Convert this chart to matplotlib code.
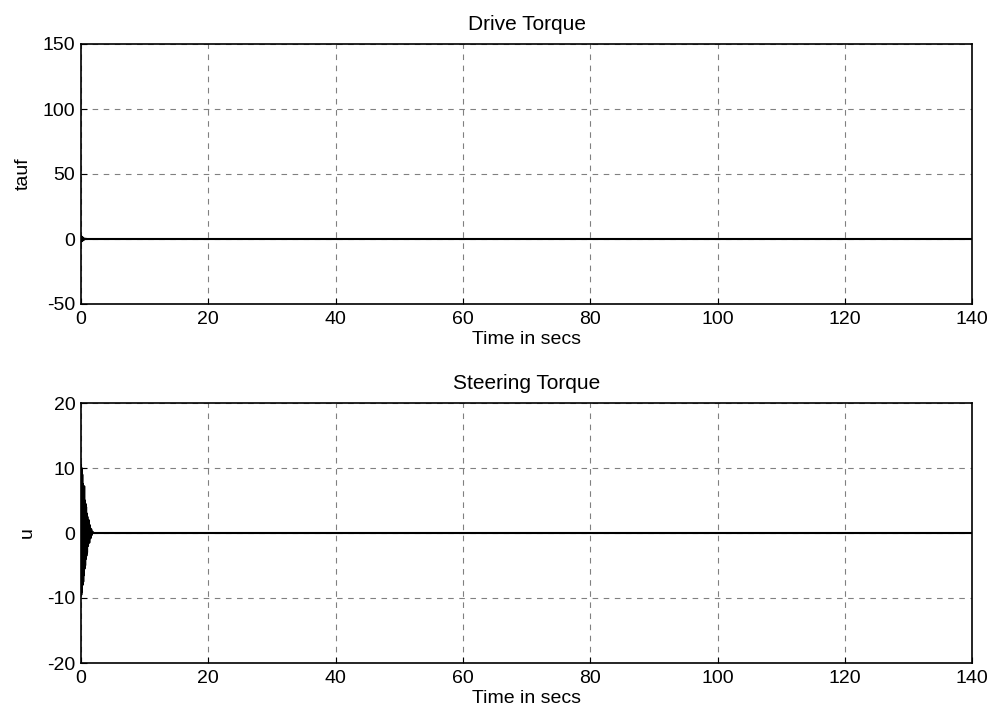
import matplotlib
matplotlib.use("Agg")
import matplotlib.pyplot as plt

plt.rcParams["font.family"] = ["Liberation Sans", "DejaVu Sans"]
plt.rcParams["font.size"] = 14
plt.rcParams["axes.unicode_minus"] = False

# drive torque: small transient right at the start, then flat zero
tauf_t = [0, 0.05, 0.1, 0.15, 0.2, 0.25, 0.3, 0.35, 0.4, 0.5, 0.6, 0.8, 1.0, 140]
tauf_v = [2.0, -2.0, 1.8, -1.6, 1.4, -1.2, 1.0, -0.8, 0.6, -0.4, 0.2, 0.1, 0.0, 0.0]

# steering torque: decaying oscillation in the first ~2 s
u_t = [0, 0.05, 0.1, 0.15, 0.2, 0.25, 0.3, 0.35, 0.4, 0.45, 0.5, 0.55, 0.6, 0.65,
       0.7, 0.75, 0.8, 0.85, 0.9, 0.95, 1.0, 1.1, 1.2, 1.3, 1.4, 1.5, 1.6, 1.7,
       1.8, 2.0, 140]
u_v = [10.5, -9.5, 10.0, -9.0, 9.0, -8.0, 7.5, -7.5, 7.0, -6.5, 7.2, -5.5, 5.0,
       -5.0, 4.5, -4.0, 4.0, -3.5, 3.0, -3.0, 2.5, -2.0, 2.0, -1.5, 1.2, -0.8,
       0.6, -0.3, 0.2, 0.0, 0.0]

fig, (ax1, ax2) = plt.subplots(2, 1, figsize=(9.95, 7.17), dpi=100)

ax1.plot(tauf_t, tauf_v, color="black", linewidth=1.5)
ax1.set_xlim(0, 140)
ax1.set_ylim(-50, 150)
ax1.set_yticks([-50, 0, 50, 100, 150])
ax1.set_title("Drive Torque", fontsize=15, pad=10)
ax1.set_xlabel("Time in secs", labelpad=2)
ax1.set_ylabel("tauf", labelpad=8)

ax2.plot(u_t, u_v, color="black", linewidth=1.5)
ax2.set_xlim(0, 140)
ax2.set_ylim(-20, 20)
ax2.set_yticks([-20, -10, 0, 10, 20])
ax2.set_title("Steering Torque", fontsize=15, pad=10)
ax2.set_xlabel("Time in secs", labelpad=2)
ax2.set_ylabel("u", labelpad=8)

for ax in (ax1, ax2):
    ax.set_xticks(range(0, 141, 20))
    ax.grid(True, color="gray", linestyle=(0, (5, 5)), linewidth=0.8)
    ax.tick_params(direction="in", length=4)
    ax.tick_params(axis="x", pad=5)
    ax.tick_params(axis="y", pad=4)
    for s in ax.spines.values():
        s.set_linewidth(1.2)

fig.subplots_adjust(left=0.0814, right=0.977, top=1 - 44 / 717, bottom=1 - 663 / 717,
                    hspace=(403 - 304) / 260)
fig.savefig("out.png", dpi=100)
